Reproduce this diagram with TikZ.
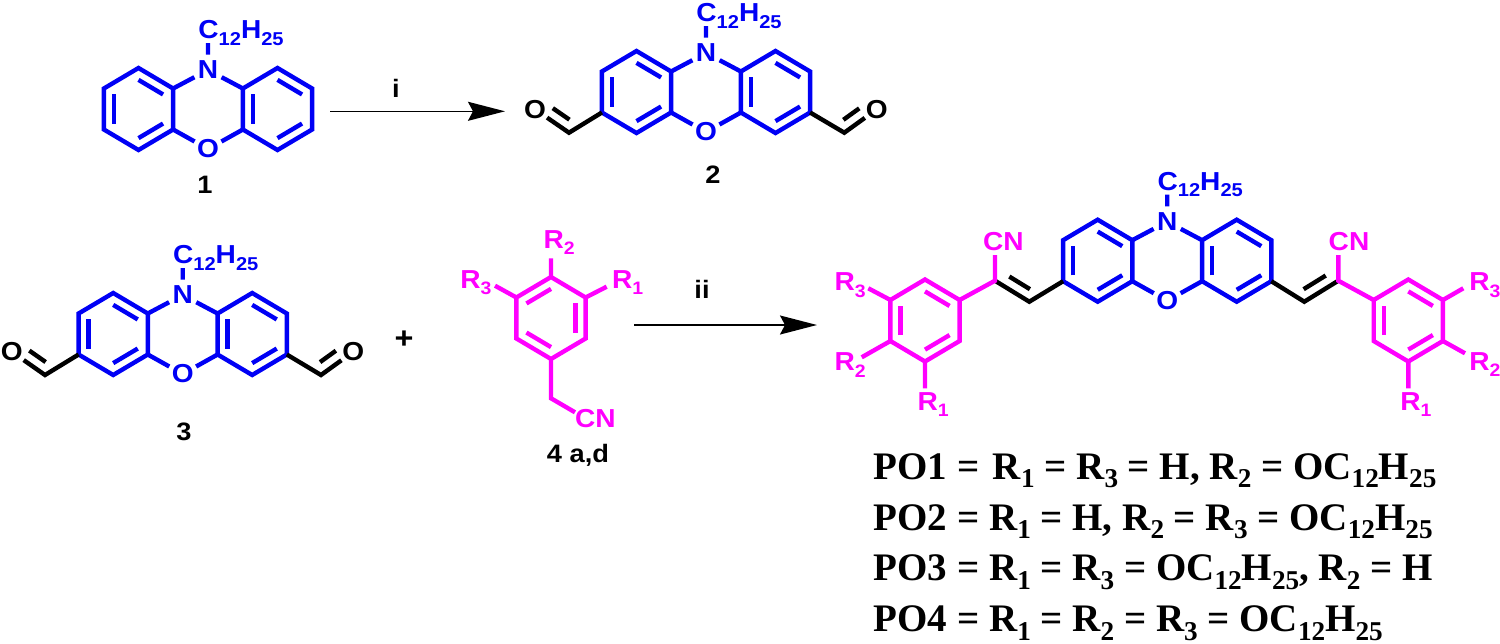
\documentclass[tikz,border=0pt]{standalone}
\usepackage{fontspec}
\setmainfont[FakeStretch=1.08]{Liberation Sans}
\newfontfamily\poserif{Liberation Serif}
\usetikzlibrary{calc,arrows.meta}
\definecolor{chemblue}{RGB}{0,0,245}
\definecolor{chempink}{RGB}{255,0,255}
\newcommand\sbs[1]{\raisebox{-3.3pt}{\fontsize{9.3}{10}\selectfont #1}}
\newcommand\rsb[1]{\raisebox{-3.3pt}{\fontsize{9}{10}\selectfont #1}}
\newcommand\alk{C\sbs{12}H\sbs{25}}
\newcommand\psb[1]{\raisebox{-4.2pt}{\fontsize{13.6}{15}\selectfont #1}}
\tikzset{
  bond/.style={line width=2.2pt,line join=miter},
  atom/.style={font=\fontsize{13}{14}\selectfont\bfseries,inner sep=0pt,circle,minimum size=15pt},
  smallatom/.style={font=\fontsize{13}{14}\selectfont\bfseries,inner sep=0pt,circle,minimum size=14pt},
  lab/.style={font=\fontsize{13}{14}\selectfont\bfseries,inner sep=0pt,anchor=base west},
  cmpd/.style={font=\fontsize{12.6}{14}\selectfont\bfseries,inner sep=0pt,text=black},
  poline/.style={font=\poserif\fontsize{19.5}{21}\selectfont\bfseries,inner sep=0pt,anchor=base west,text=black},
  rxn/.style={line width=0.8pt,-{Stealth[length=18.5pt,width=9.5pt,inset=2.5pt]}}
}
% ring: name, centre x, y, colour
\newcommand\benz[4]{
  \coordinate (#1m) at (#2,#3);
  \coordinate (#1a) at (#2,#3-41);
  \coordinate (#1b) at (#2+34.6,#3-20.5);
  \coordinate (#1c) at (#2+34.6,#3+20.5);
  \coordinate (#1d) at (#2,#3+41);
  \coordinate (#1e) at (#2-34.6,#3+20.5);
  \coordinate (#1f) at (#2-34.6,#3-20.5);
  \draw[bond,#4] (#1a)--(#1b)--(#1c)--(#1d)--(#1e)--(#1f)--cycle;
}
\newcommand\dbl[4]{\draw[bond,#4] ($(#1m)!.71!(#1#2)$)--($(#1m)!.71!(#1#3)$);}
% phenoxazine core: prefix, N x, N y
\newcommand\phenox[3]{
  \benz{#1L}{#2-69.5}{#3+39}{chemblue}
  \benz{#1R}{#2+69.5}{#3+39}{chemblue}
  \dbl{#1L}{a}{b}{chemblue}\dbl{#1L}{e}{f}{chemblue}\dbl{#1L}{c}{d}{chemblue}
  \dbl{#1R}{a}{b}{chemblue}\dbl{#1R}{e}{f}{chemblue}\dbl{#1R}{c}{d}{chemblue}
  \node[atom,text=chemblue] (#1N) at (#2,#3) {N};
  \node[atom,text=chemblue] (#1O) at (#2,#3+79) {O};
  \node[lab,text=chemblue,anchor=base west] (#1C) at (#2-10,#3-31.5) {\alk};
  \coordinate (#1Cb) at (#2,#3-27);
  \draw[bond,chemblue] (#1N)--(#1Lb) (#1N)--(#1Rf) (#1O)--(#1Lc) (#1O)--(#1Re) (#1N)--(#1Cb);
}
% aldehyde: prefix, ring vertex, C x, C y, O x, O y, perpendicular angle
\newcommand\cho[7]{
  \coordinate (#1c) at (#3,#4);
  \node[smallatom,text=black] (#1o) at (#5,#6) {O};
  \draw[bond,black] (#2)--(#1c)--(#1o);
  \draw[bond,black] ($(#1c)!.17!(#1o)!5.5pt!#7:(#1o)$)--($(#1c)!.66!(#1o)!5.5pt!#7:(#1o)$);
}
\begin{document}
\begin{tikzpicture}[x=0.5pt,y=-0.5pt]
\useasboundingbox (0,0) rectangle (1500,643);
% compound 1
\phenox{A}{208}{70}
\node[cmpd] (lab1) at (205,185) {1};
% arrow i
\coordinate (ai) at (330,111.3); \coordinate (bi) at (505,111.3);
\draw[rxn] (ai)--(bi);
\node[cmpd] (li) at (396,88) {i};
% compound 2
\phenox{B}{706}{53}
\cho{Bl}{BLe}{569}{132.7}{535}{109.3}{-90}
\cho{Br}{BRc}{844.3}{132.7}{876.7}{109.3}{90}
\node[cmpd] (lab2) at (713,175) {2};
% compound 3
\phenox{C}{182.7}{295}
\cho{Cl}{CLe}{45}{375}{11.7}{351.7}{-90}
\cho{Cr}{CRc}{321}{375}{353.3}{351.7}{90}
\node[cmpd] (lab3) at (184,432) {3};
\node[cmpd,font=\fontsize{15}{15}\selectfont\bfseries] (plus) at (404,340) {+};
% compound 4
\benz{D}{551}{318}{chempink}
\dbl{D}{f}{a}{chempink}\dbl{D}{b}{c}{chempink}\dbl{D}{d}{e}{chempink}
\node[lab,text=chempink] (D2) at (543.3,248.3) {R\rsb{2}};
\node[lab,text=chempink] (D3) at (460,288.3) {R\rsb{3}};
\node[lab,text=chempink] (D1) at (611.7,288.3) {R\rsb{1}};
\coordinate (D2b) at (551,258.3);
\coordinate (D3b) at (495,285.7);
\coordinate (D1b) at (606.7,286.7);
\coordinate (Dch) at (551,398.3);
\coordinate (Dcn) at (575,412.3);
\node[smallatom,rectangle,text=chempink] (DCN) at (595.3,418.3) {CN};
\draw[bond,chempink] (Da)--(D2b) (Df)--(D3b) (Db)--(D1b);
\draw[bond,chempink] (Dd)--(Dch)--(Dcn);
\node[cmpd] (lab4) at (578,455) {4 a,d};
% arrow ii
\coordinate (aii) at (634,325); \coordinate (bii) at (817,325);
\draw[rxn] (aii)--(bii);
\node[cmpd] (lii) at (702,289) {ii};
% product
\phenox{P}{1167.2}{221.7}
% left arm
\coordinate (Vl1) at (1029.3,301.7);
\coordinate (Vl2) at (995,280.7);
\draw[bond,black] (PLe)--(Vl1)--(Vl2);
\draw[bond,black] ($(Vl2)!.25!(Vl1)!5.5pt!90:(Vl1)$)--($(Vl2)!.85!(Vl1)!5.5pt!90:(Vl1)$);
\benz{Q}{925}{320.5}{chempink}
\dbl{Q}{a}{b}{chempink}\dbl{Q}{e}{f}{chempink}\dbl{Q}{c}{d}{chempink}
\coordinate (QCb) at (995,255);
\node[smallatom,rectangle,text=chempink] (QCN) at (1003.3,241.7) {CN};
\draw[bond,chempink] (QCb)--(Vl2)--(Qb);
\node[lab,text=chempink] (Q3) at (834.3,290.7) {R\rsb{3}};
\node[lab,text=chempink] (Q2) at (834.3,370.7) {R\rsb{2}};
\node[lab,text=chempink] (Q1) at (917.3,410) {R\rsb{1}};
\coordinate (Q3b) at (868.3,288.3);
\coordinate (Q2b) at (861.7,357.3);
\coordinate (Q1b) at (925,388.3);
\draw[bond,chempink] (Qf)--(Q3b) (Qe)--(Q2b) (Qd)--(Q1b);
% right arm
\coordinate (Vr1) at (1304.3,301.7);
\coordinate (Vr2) at (1338.3,280.7);
\draw[bond,black] (PRc)--(Vr1)--(Vr2);
\draw[bond,black] ($(Vr2)!.2!(Vr1)!5.5pt!-90:(Vr1)$)--($(Vr2)!.85!(Vr1)!5.5pt!-90:(Vr1)$);
\benz{S}{1408.3}{320.5}{chempink}
\dbl{S}{a}{b}{chempink}\dbl{S}{e}{f}{chempink}\dbl{S}{c}{d}{chempink}
\coordinate (SCb) at (1338.3,255);
\node[smallatom,rectangle,text=chempink] (SCN) at (1349,241.7) {CN};
\draw[bond,chempink] (SCb)--(Vr2)--(Sf);
\node[lab,text=chempink] (S3) at (1469,290.7) {R\rsb{3}};
\node[lab,text=chempink] (S2) at (1469,370) {R\rsb{2}};
\node[lab,text=chempink] (S1) at (1400,410) {R\rsb{1}};
\coordinate (S3b) at (1463.3,288.3);
\coordinate (S2b) at (1465,353.3);
\coordinate (S1b) at (1408.3,388.3);
\draw[bond,chempink] (Sb)--(S3b) (Sc)--(S2b) (Sd)--(S1b);
% series table
\node[poline] (po1) at (873.3,479.3) {PO1 = \hspace{1.9pt}R\psb{1} = R\psb{3} = H, R\psb{2} = OC\psb{12}H\psb{25}};
\node[poline] (po2) at (873.3,530) {PO2 = R\psb{1} = H, R\psb{2} = R\psb{3} = OC\psb{12}H\psb{25}};
\node[poline] (po3) at (873.3,580.7) {PO3 = R\psb{1} = R\psb{3} = OC\psb{12}H\psb{25}, R\psb{2} = H};
\node[poline] (po4) at (873.3,631.7) {PO4 = R\psb{1} = R\psb{2} = R\psb{3} = OC\psb{12}H\psb{25}};
\end{tikzpicture}
\end{document}
